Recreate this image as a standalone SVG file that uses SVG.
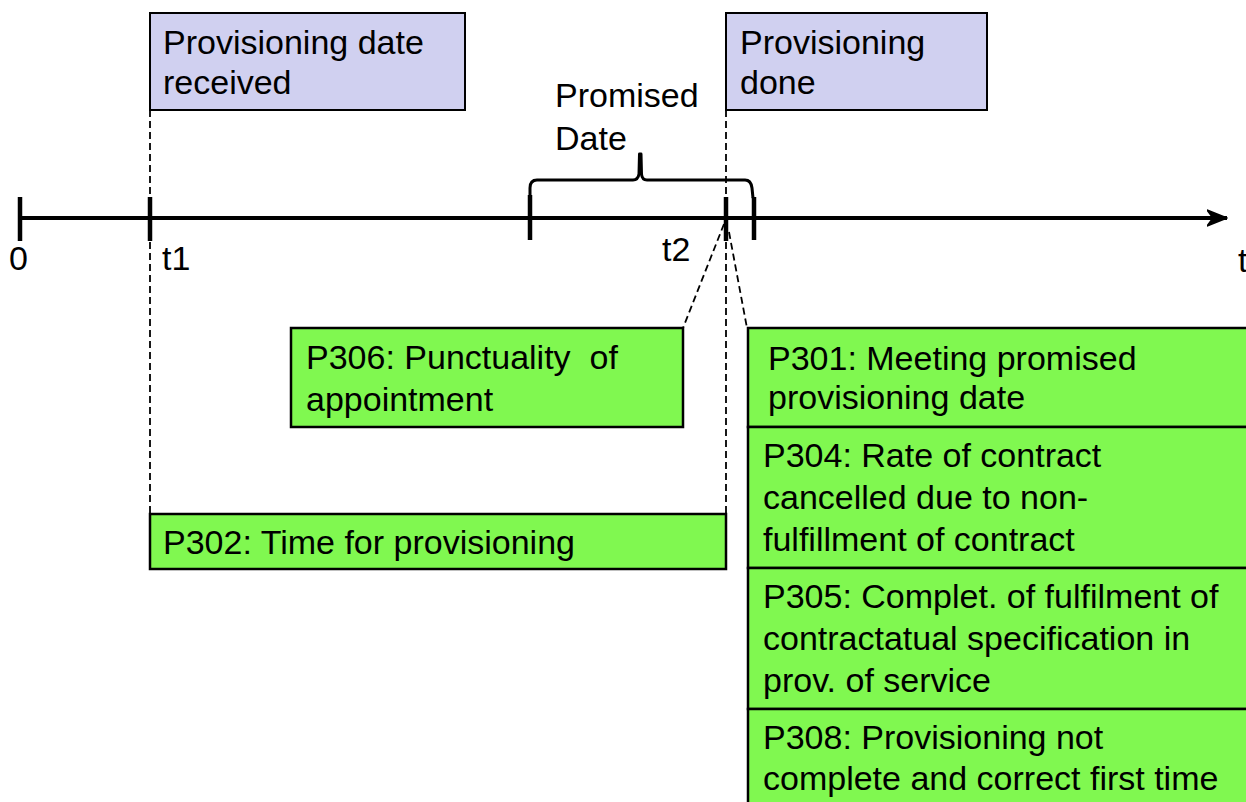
<svg xmlns="http://www.w3.org/2000/svg" width="1246" height="802" viewBox="0 0 1246 802">
<style>
text{font-family:"Liberation Sans",Arial,sans-serif;font-size:34px;fill:#000}
.ev{fill:#d0d0f0;stroke:#000;stroke-width:2}
.kpi{fill:#80f850;stroke:#000;stroke-width:2.5}
.dash{fill:none;stroke:#000;stroke-width:1.8;stroke-dasharray:7,4}
.tick{stroke:#000;stroke-width:4.5}
</style>
<defs>
<marker id="arr" markerWidth="22" markerHeight="18" refX="20" refY="9" orient="auto" markerUnits="userSpaceOnUse" viewBox="0 0 22 18">
<path d="M0,1 L20,9 L0,17 L6,9 Z" fill="#000" stroke="#000" stroke-width="1.5" stroke-linejoin="round"/>
</marker>
</defs>
<rect width="1246" height="802" fill="#fff"/>
<g id="connectors">
<line x1="150" y1="110" x2="150" y2="514" class="dash"/>
<line x1="726" y1="110" x2="726" y2="522" class="dash"/>
<line x1="724" y1="224" x2="683" y2="328" class="dash"/>
<line x1="729" y1="232" x2="747" y2="328" class="dash"/>
</g>
<g id="timeline">
<line x1="20" y1="218" x2="1227" y2="218" stroke="#000" stroke-width="4" marker-end="url(#arr)"/>
<line x1="20" y1="197" x2="20" y2="241" class="tick"/>
<line x1="150" y1="197" x2="150" y2="241" class="tick" stroke-width="5"/>
<line x1="530" y1="195" x2="530" y2="240" class="tick"/>
<line x1="726" y1="197" x2="726" y2="241" class="tick" stroke-width="5"/>
<line x1="754" y1="197" x2="754" y2="240" class="tick"/>
<text x="9" y="270">0</text>
<text x="162" y="270">t1</text>
<text x="662" y="261">t2</text>
<text x="1238" y="272">t</text>
</g>
<g id="brace">
<path d="M530,198 L530,188 Q530,180 537,180 L633,180 Q638,180 639,174 L639.5,154 L641,154 L641.5,174 Q642,180 647,180 L745,180 Q751,180 752,188 L753,198" fill="none" stroke="#000" stroke-width="3" stroke-linejoin="round"/>
<text x="555" y="107">Promised</text>
<text x="555" y="150">Date</text>
</g>
<g id="received">
<rect x="150" y="13" width="315" height="97" class="ev"/>
<text x="163" y="54">Provisioning date</text>
<text x="163" y="94">received</text>
</g>
<g id="done">
<rect x="726" y="13" width="261" height="97" class="ev"/>
<text x="740" y="54">Provisioning</text>
<text x="740" y="94">done</text>
</g>
<g id="p306">
<rect x="291" y="328" width="392" height="99" class="kpi"/>
<text x="306" y="369" xml:space="preserve">P306: Punctuality  of</text>
<text x="306" y="411">appointment</text>
</g>
<g id="p302">
<rect x="150" y="514" width="576" height="55" class="kpi"/>
<text x="163" y="554">P302: Time for provisioning</text>
</g>
<g id="p301">
<rect x="748" y="328" width="502" height="99" class="kpi"/>
<text x="768" y="370">P301: Meeting promised</text>
<text x="768" y="409">provisioning date</text>
</g>
<g id="p304">
<rect x="748" y="427" width="502" height="141" class="kpi"/>
<text x="763" y="467">P304: Rate of contract</text>
<text x="763" y="509">cancelled due to non-</text>
<text x="763" y="551">fulfillment of contract</text>
</g>
<g id="p305">
<rect x="748" y="568" width="502" height="141" class="kpi"/>
<text x="763" y="608">P305: Complet. of fulfilment of</text>
<text x="763" y="650">contractatual specification in</text>
<text x="763" y="692">prov. of service</text>
</g>
<g id="p308">
<rect x="748" y="709" width="502" height="100" class="kpi"/>
<text x="763" y="749">P308: Provisioning not</text>
<text x="763" y="790">complete and correct first time</text>
</g>
</svg>
